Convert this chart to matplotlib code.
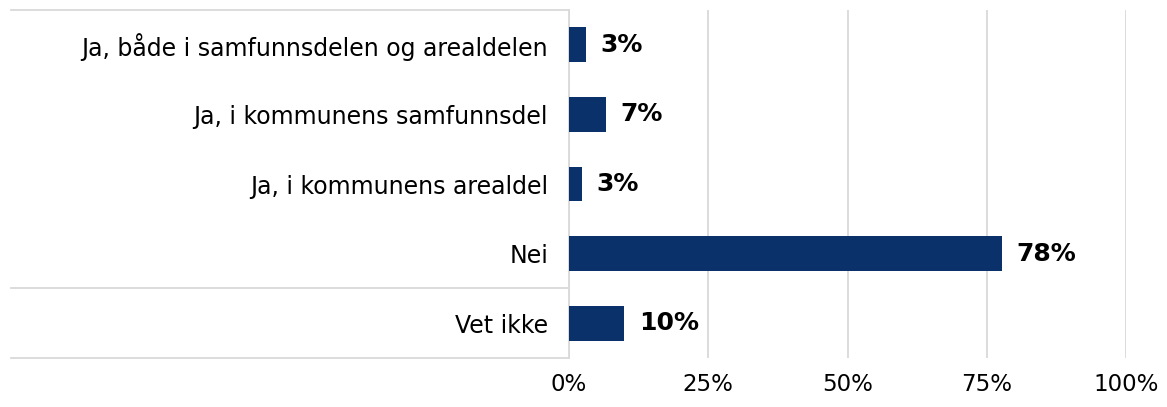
import matplotlib
matplotlib.use("Agg")
import matplotlib.pyplot as plt
from matplotlib.lines import Line2D

categories = [
    "Ja, både i samfunnsdelen og arealdelen",
    "Ja, i kommunens samfunnsdel",
    "Ja, i kommunens arealdel",
    "Nei",
    "Vet ikke",
]
values = [3.1, 6.6, 2.4, 77.7, 9.9]
value_labels = ["3%", "7%", "3%", "78%", "10%"]
ticks = [0, 25, 50, 75, 100]
tick_labels = ["0%", "25%", "50%", "75%", "100%"]

bar_color = "#0B316B"
grid_color = "#D9D9D9"

fig = plt.figure(figsize=(11.67, 4.07), dpi=100)
ax = fig.add_axes([569 / 1167, 1 - 358 / 407, 557 / 1167, 348 / 407])

y = list(range(len(categories)))
ax.barh(y, values, height=0.5, color=bar_color, zorder=3)
for yi, v, lab in zip(y, values, value_labels):
    ax.text(v + 2.6, yi, lab, va="center", ha="left", fontsize=18,
            fontweight="bold", color="black")

ax.set_xlim(0, 100)
ax.set_ylim(len(categories) - 0.5, -0.5)
ax.set_xticks(ticks)
ax.set_xticklabels(tick_labels, fontsize=16.5)
ax.set_yticks(y)
ax.set_yticklabels(categories, fontsize=17)
ax.tick_params(axis="x", length=0, pad=11)
ax.tick_params(axis="y", length=0, pad=15)
ax.xaxis.grid(True, color=grid_color, lw=1.3, zorder=0)
for s in ["top", "right", "bottom"]:
    ax.spines[s].set_visible(False)
ax.spines["left"].set_color(grid_color)
ax.spines["left"].set_linewidth(1.3)

# separator lines in the label area
x0 = (11 - 569) / 557
for yl in [-0.5, 3.5, 4.5]:
    ax.add_line(Line2D([x0, 0], [yl, yl], color=grid_color, lw=1.3,
                       transform=ax.get_yaxis_transform(), clip_on=False))

fig.savefig("out.png", dpi=100)
